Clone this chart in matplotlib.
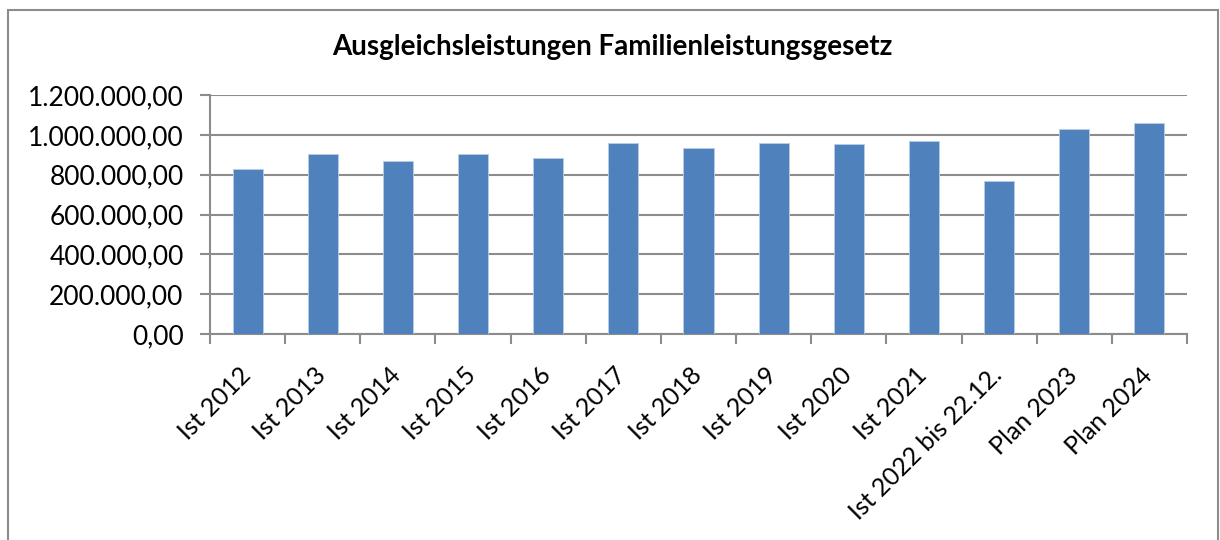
import matplotlib
matplotlib.use("Agg")
import matplotlib.pyplot as plt
from matplotlib.patches import Rectangle
from matplotlib.ticker import FuncFormatter, MultipleLocator, FixedLocator
from matplotlib.transforms import ScaledTranslation

categories = ["Ist 2012", "Ist 2013", "Ist 2014", "Ist 2015", "Ist 2016", "Ist 2017",
              "Ist 2018", "Ist 2019", "Ist 2020", "Ist 2021", "Ist 2022 bis 22.12.",
              "Plan 2023", "Plan 2024"]
values = [828000, 904000, 870000, 902000, 882000, 958000,
          935000, 957000, 956000, 969000, 768000, 1029000, 1061000]
title = "Ausgleichsleistungen Familienleistungsgesetz"

plt.rcParams['font.family'] = ['Lato', 'DejaVu Sans']

W, H = 1220, 540
fig = plt.figure(figsize=(W / 100, H / 100), dpi=100)
fig.patch.set_facecolor("white")

# outer border
fig.patches.append(Rectangle((8 / W, -0.1), (1218 - 8) / W, 1.1 - 10 / H,
                             transform=fig.transFigure, fill=False,
                             edgecolor="#8c8c8c", linewidth=1.5))

ax = fig.add_axes([210 / W, 1 - 334 / H, (1187 - 210) / W, (334 - 95) / H])
x = list(range(len(categories)))
ax.bar(x, values, width=0.4, color="#4f81bd", edgecolor="#b9cde5", linewidth=0.6, zorder=3)

ax.set_xlim(-0.5, len(categories) - 0.5)
ax.set_ylim(0, 1200000)
ax.yaxis.set_major_locator(MultipleLocator(200000))

def de_fmt(v, pos):
    s = f"{v:,.2f}"
    return s.replace(",", "X").replace(".", ",").replace("X", ".")

ax.yaxis.set_major_formatter(FuncFormatter(de_fmt))
ax.grid(axis="y", color="#8c8c8c", linewidth=1.5, zorder=0)
ax.set_axisbelow(True)

for s in ["top", "right"]:
    ax.spines[s].set_visible(False)
for s in ["left", "bottom"]:
    ax.spines[s].set_color("#8c8c8c")
    ax.spines[s].set_linewidth(1.5)

ax.set_xticks(x)
ax.set_xticklabels(categories, rotation=45, ha="right", va="top",
                   rotation_mode="anchor", fontsize=18)
ax.tick_params(axis="x", length=0, pad=14)
offset = ScaledTranslation(-9 / 100, -10 / 100, fig.dpi_scale_trans)
for lbl in ax.get_xticklabels():
    lbl.set_transform(lbl.get_transform() + offset)
ax.xaxis.set_minor_locator(FixedLocator([i - 0.5 for i in range(len(categories) + 1)]))
ax.tick_params(axis="x", which="minor", length=7, width=1.5, color="#8c8c8c")
ax.tick_params(axis="y", length=7, width=1.5, color="#8c8c8c", labelsize=19, pad=12)

fig.text(612 / W, 1 - 47 / H, title, ha="center", va="center",
         fontsize=20, fontweight="bold")

fig.savefig("out.png", dpi=100, facecolor="white")
